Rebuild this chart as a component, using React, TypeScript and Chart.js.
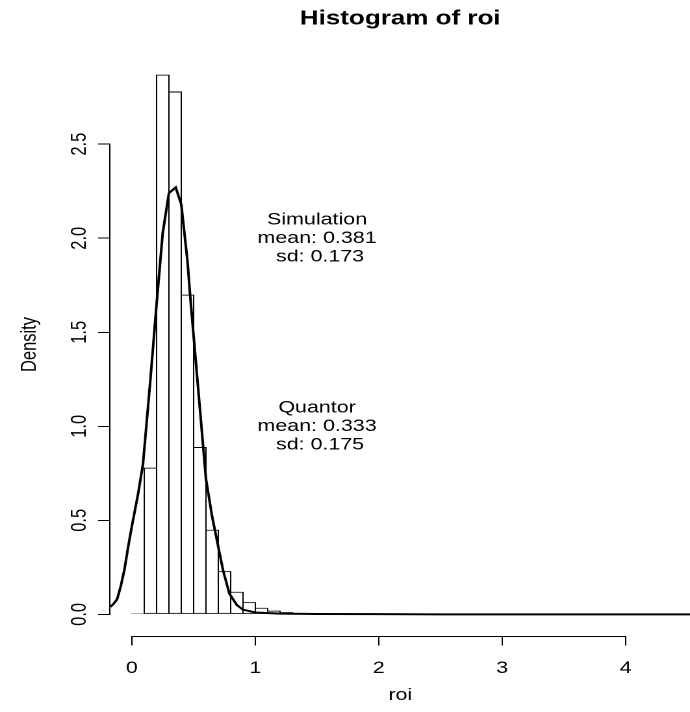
import React, { useEffect, useRef } from "react";
import { Chart, registerables } from "chart.js";

Chart.register(...registerables);

// ---- data ----
const binCenters = [0.05, 0.15, 0.25, 0.35, 0.45, 0.55, 0.65, 0.75, 0.85, 0.95, 1.05, 1.15, 1.25, 1.35, 1.45, 1.55, 1.65, 1.75, 1.85];
const binDensity = [0.005, 0.78, 2.87, 2.78, 1.70, 0.89, 0.45, 0.23, 0.12, 0.065, 0.035, 0.02, 0.012, 0.008, 0.004, 0.003, 0.002, 0.002, 0.001];

const densX = [-0.174, -0.15, -0.12, -0.09, -0.06, -0.03, 0, 0.05, 0.09, 0.15, 0.2, 0.25, 0.3, 0.355, 0.4, 0.45, 0.475, 0.5, 0.55, 0.6, 0.65, 0.69, 0.74, 0.79, 0.85, 0.9, 1.0, 1.2, 1.5, 2.0, 2.5, 4.53];
const densY = [0.04, 0.055, 0.08, 0.15, 0.24, 0.36, 0.47, 0.64, 0.8, 1.25, 1.65, 2.03, 2.24, 2.27, 2.18, 1.88, 1.67, 1.48, 1.1, 0.72, 0.52, 0.39, 0.23, 0.11, 0.05, 0.025, 0.01, 0.004, 0.002, 0.001, 0, 0];

const xTicks = [0, 1, 2, 3, 4];
const yTicks = [0, 0.5, 1, 1.5, 2, 2.5];

const noteX = [1.5, 1.5];
const noteY = [2.0, 1.0];
const noteLines = [
  ["Simulation", "mean: 0.381", " sd: 0.173"],
  ["Quantor", "mean: 0.333", " sd: 0.175"],
];

const titleText = "Histogram of roi";
const xTitle = "roi";
const yTitle = "Density";

// ---- layout (internal canvas is horizontally stretched to 690px by CSS) ----
const W = 531;
const H = 712;
const FAMILY = '"Liberation Sans", Arial, Helvetica, sans-serif';
const FS = 16.5;

const rPlugin = {
  id: "rAxesNotes",
  afterDraw(chart: any) {
    const { ctx, chartArea, scales } = chart;
    const x = scales.x;
    const y = scales.y;
    ctx.save();
    ctx.strokeStyle = "#000";
    ctx.lineWidth = 1;
    ctx.beginPath();
    const yb = Math.round(chartArea.bottom) + 0.5;
    ctx.moveTo(x.getPixelForValue(xTicks[0]), yb);
    ctx.lineTo(x.getPixelForValue(xTicks[xTicks.length - 1]), yb);
    const xl = Math.round(chartArea.left) - 0.5;
    ctx.moveTo(xl, y.getPixelForValue(yTicks[0]));
    ctx.lineTo(xl, y.getPixelForValue(yTicks[yTicks.length - 1]));
    ctx.stroke();

    ctx.fillStyle = "#000";
    ctx.font = `${FS}px ${FAMILY}`;
    ctx.textAlign = "center";
    ctx.textBaseline = "middle";
    const lh = 18.5;
    for (let i = 0; i < noteLines.length; i++) {
      const px = x.getPixelForValue(noteX[i]);
      const py = y.getPixelForValue(noteY[i]);
      const lines = noteLines[i];
      const mid = (lines.length - 1) / 2;
      lines.forEach((t, j) => ctx.fillText(t, px, py + (j - mid) * lh));
    }
    ctx.restore();
  },
};

export default function App() {
  const ref = useRef<HTMLCanvasElement>(null);

  useEffect(() => {
    const canvas = ref.current;
    if (!canvas) return;
    const font = { family: FAMILY, size: FS };
    const chart = new Chart(canvas, {
      type: "bar",
      data: {
        datasets: [
          {
            type: "line",
            data: densX.map((v, i) => ({ x: v, y: densY[i] })),
            borderColor: "#000",
            borderWidth: 2,
            pointRadius: 0,
            tension: 0,
            fill: false,
            order: 0,
          } as any,
          {
            type: "bar",
            data: binCenters.map((v, i) => ({ x: v, y: binDensity[i] })),
            backgroundColor: "#fff",
            borderColor: "#000",
            borderWidth: 1,
            borderSkipped: false,
            barPercentage: 1.105,
            categoryPercentage: 1,
            inflateAmount: 0,
            order: 1,
          } as any,
        ],
      },
      options: {
        responsive: false,
        animation: false,
        devicePixelRatio: 2,
        layout: { padding: 0 },
        plugins: {
          legend: { display: false },
          tooltip: { enabled: false },
          title: {
            display: true,
            text: titleText,
            color: "#000",
            fullSize: false,
            font: { family: FAMILY, size: 20, weight: "bold" },
            padding: { top: 7, bottom: 22 },
          },
        },
        scales: {
          x: {
            type: "linear",
            min: -0.173684,
            max: 4.521053,
            offset: false,
            grid: {
              display: true,
              drawOnChartArea: false,
              drawTicks: true,
              tickLength: 9.5,
              color: "#000",
              lineWidth: 1,
              offset: false,
            },
            border: { display: false },
            ticks: {
              color: "#000",
              font,
              padding: 13,
              maxRotation: 0,
              minRotation: 0,
              autoSkip: false,
              callback: (v: any) => String(v),
            },
            afterBuildTicks: (s: any) => {
              s.ticks = xTicks.map((v) => ({ value: v }));
            },
            afterFit: (s: any) => {
              s.height = 76;
            },
            title: {
              display: true,
              text: xTitle,
              color: "#000",
              font,
              padding: { top: 0, bottom: 6.6 },
            },
          },
          y: {
            type: "linear",
            min: -0.115,
            max: 2.985,
            grid: {
              display: true,
              drawOnChartArea: false,
              drawTicks: true,
              tickLength: 9.5,
              color: "#000",
              lineWidth: 1,
            },
            border: { display: false },
            ticks: {
              color: "#000",
              font,
              padding: 2.5,
              minRotation: 90,
              maxRotation: 90,
              crossAlign: "center",
              autoSkip: false,
              callback: (v: any) => Number(v).toFixed(1),
            },
            afterBuildTicks: (s: any) => {
              s.ticks = yTicks.map((v) => ({ value: v }));
            },
            afterFit: (s: any) => {
              s.width = 85;
            },
            title: {
              display: true,
              text: yTitle,
              color: "#000",
              font,
              padding: { top: 13.1, bottom: 0 },
            },
          },
        },
      } as any,
      plugins: [rPlugin],
    });
    return () => chart.destroy();
  }, []);

  return (
    <div
      style={{
        position: "absolute",
        left: 0,
        top: 0,
        width: 690,
        height: 712,
        overflow: "hidden",
        background: "#fff",
      }}
    >
      <canvas
        ref={ref}
        width={W}
        height={H}
        style={{ width: "690px", height: "712px", display: "block" }}
      />
    </div>
  );
}
